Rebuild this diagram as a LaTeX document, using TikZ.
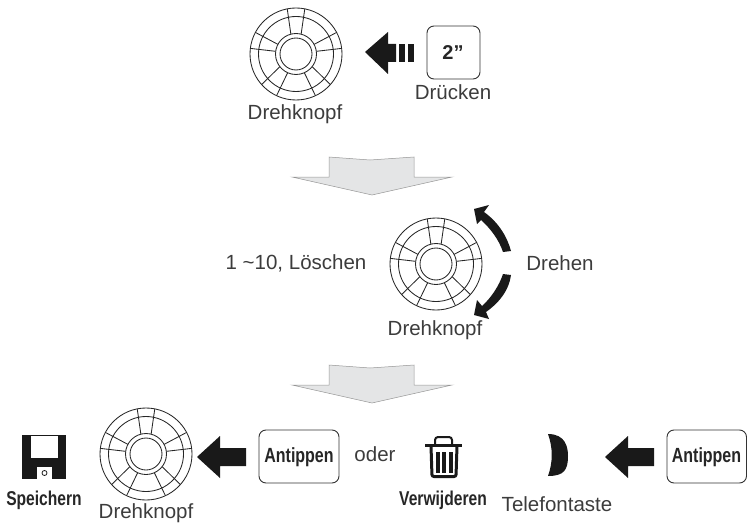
\documentclass[tikz,border=0pt]{standalone}
\usepackage{fontspec}
\setmainfont{Liberation Sans}
\newfontfamily\narrowfont[FakeStretch=0.78]{Liberation Sans Bold}
\definecolor{textgray}{RGB}{60,60,60}
\definecolor{arrowgray}{RGB}{228,229,230}
\definecolor{linegray}{RGB}{150,150,150}
\tikzset{
  knobline/.style={draw=black!85,line width=0.85pt},
  keybox/.style={draw=black!80,line width=0.9pt,rounded corners=7pt},
  keytext/.style={font=\narrowfont\fontsize{20.5}{22}\selectfont,text=black!85},
  lab/.style={font=\fontsize{20.5}{23}\selectfont,text=textgray},
  boldlab/.style={font=\narrowfont\fontsize{20}{23}\selectfont,text=black!85},
  pics/knob/.style={code={
    \draw[knobline] (0,0) circle (46) (0,0) circle (37.5) (0,0) circle (20.5) (0,0) circle (16);
    % spokes, inner angle/outer angle
    \foreach \i/\o in {104.5/101,75.5/79,152/152,172.5/173,28/28,7.5/7,
                       -38/-41.7,-66/-65,-142/-138.3,-114/-115}{
      \draw[knobline] (\i:20.5) -- (\o:46);
    }
  }},
  pics/grayarrow/.style={code={
    \draw[fill=arrowgray,draw=linegray,line width=0.5pt] (-43,12) -- (-2,9) -- (42,12) -- (42,-8) -- (80,-8) -- (0,-26) -- (-80,-8) -- (-43,-8) -- cycle;
  }},
  pics/blackarrow/.style={code={
    \fill[black!90] (0,0) -- (23,-21) -- (23,-9) -- (49,-9) -- (49,9) -- (23,9) -- (23,21) -- cycle;
  }}
}
\begin{document}
\begin{tikzpicture}[x=1pt,y=1pt,yscale=-1]
\useasboundingbox (0,0) rectangle (747,524);

% first row
\pic at (296,54) {knob};
\fill[black!90] (365,52) -- (388,32) -- (388,44) -- (396,44) -- (396,62) -- (388,62) -- (388,74) -- cycle;
\fill[black!90] (399,44) rectangle (405,62);
\fill[black!90] (408,44) rectangle (414,62);
\draw[keybox] (427,26) rectangle (480,79);
\node[font=\bfseries\fontsize{20}{22}\selectfont,text=black!85] (wait) at (453,53) {2''};
\node[lab] (druecken) at (453,92) {Drücken};
\node[lab] (knobtop) at (295,114) {Drehknopf};

\pic at (372,169) {grayarrow};

% second row
\pic at (436,264) {knob};
\node[lab] (range) at (296,263) {1 \textasciitilde10, Löschen};
\node[lab] (turn) at (560,263) {Drehen};
\node[lab] (knobmid) at (435,330) {Drehknopf};
\fill[black!90] (474,209) -- (489,205) -- (484,212) .. controls (498,222) and (507,236) .. (511,251) -- (503,252) .. controls (499,240) and (491,229) .. (481,220) -- (477,224) -- cycle;
\fill[black!90] (474,315) -- (489,319) -- (486,312) .. controls (500,302) and (509,290) .. (511,275) -- (503,274) .. controls (499,286) and (491,298) .. (482,306) -- (477,300) -- cycle;

\pic at (372,377) {grayarrow};

% third row
\fill[black!90] (22,435) rectangle (66,479);
\fill[white] (31,436) rectangle (58,458);
\fill[white] (37,467) rectangle (52,479);
\draw[black!90,line width=0.8pt] (44.5,473) circle (2.5);
\node[boldlab] (save) at (44,500) {Speichern};
\pic at (146,454) {knob};
\node[lab] (knobleft) at (146,513) {Drehknopf};
\pic at (197,457) {blackarrow};
\draw[keybox] (259,430) rectangle (339,483);
\node[keytext] (tapleft) at (299,457) {Antippen};
\node[lab] (oder) at (375,454) {oder};

% trash
\draw[black!90,line width=3pt,rounded corners=2pt] (431,446) -- (432,476.5) -- (456,476.5) -- (457,446);
\draw[black!90,line width=3.5pt] (425,445.5) -- (462,445.5);
\draw[black!90,line width=2pt,rounded corners=3pt] (435,445) -- (435,437) -- (452,437) -- (452,445);
\foreach \x in {435.5,442,448.5}{ \fill[black!90] (\x,452) rectangle (\x+4,473); }
\node[boldlab] (delete) at (443,500) {Verwijderen};

% phone key
\fill[black!90] (548,434) .. controls (566,434) and (568,448) .. (568,456) .. controls (568,470) and (564,476) .. (548,476) .. controls (553,462) and (553,448) .. cycle;
\node[lab] (phone) at (557,504) {Telefontaste};
\pic at (605,457) {blackarrow};
\draw[keybox] (667,430) rectangle (746.5,483);
\node[keytext] (tapright) at (706.5,457) {Antippen};
\end{tikzpicture}
\end{document}
